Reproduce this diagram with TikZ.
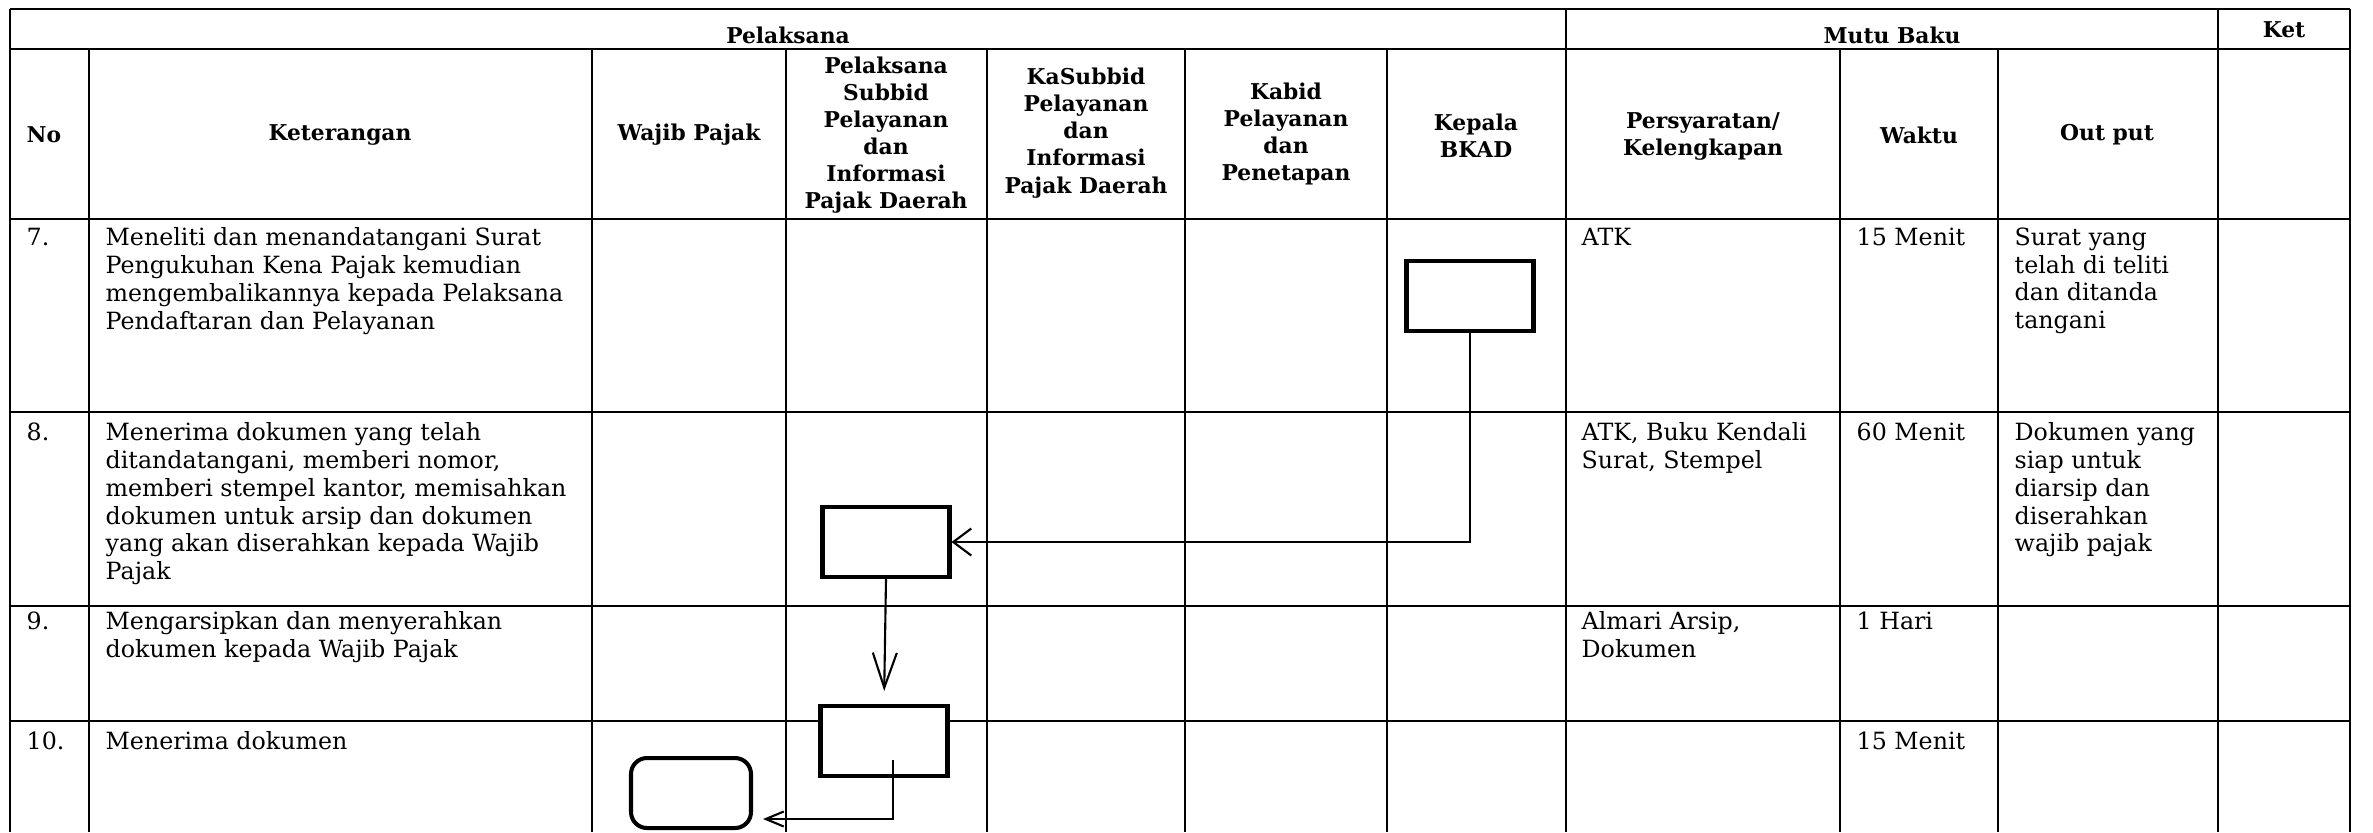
\documentclass[tikz,border=0pt]{standalone}
\usepackage{fontspec}
\setmainfont{DejaVu Serif}
\usetikzlibrary{arrows.meta}

\begin{document}
\begin{tikzpicture}[x=0.1mm, y=-0.1mm,
  grid/.style={line width=0.55pt},
  rowline/.style={line width=0.75pt},
  head/.style={align=center, inner sep=0pt, font=\fontsize{6.2}{7.7}\selectfont\bfseries},
  cell/.style={anchor=north west, inner sep=0pt, align=left, font=\fontsize{6.75}{7.9}\selectfont},
  flowbox/.style={draw, line width=1.15pt, minimum width=12.7mm, minimum height=7.0mm, inner sep=0pt},
  endbox/.style={flowbox, rounded corners=1.6mm, minimum width=12.0mm},
  flow/.style={line width=0.6pt}]
  \useasboundingbox (0,0) rectangle (2373,832);
  % table grid
  \foreach \y in {9,49,219,412,606,721}
    \draw[rowline] (10,\y) -- (2350,\y);
  \foreach \x in {10,1566,2218,2350}
    \draw[grid] (\x,9) -- (\x,832);
  \foreach \x in {89,592,786,987,1185,1387,1840,1998}
    \draw[grid] (\x,49) -- (\x,832);
  % header
  \node[head] (hPelaksana) at (788,35) {Pelaksana};
  \node[head] (hMutu) at (1892,35) {Mutu Baku};
  \node[head] (hKet) at (2284,30) {Ket};
  \node[head, anchor=west] (hNo) at (26,135) {No};
  \node[head] (hKeterangan) at (340,135) {Keterangan};
  \node[head] (hWajib) at (689,135) {Wajib Pajak};
  \node[head] (hSubbid) at (886,135) {Pelaksana\\Subbid\\Pelayanan\\dan\\Informasi\\Pajak Daerah};
  \node[head] (hKasubbid) at (1086,133) {KaSubbid\\Pelayanan\\dan\\Informasi\\Pajak Daerah};
  \node[head] (hKabid) at (1286,134) {Kabid\\Pelayanan\\dan\\Penetapan};
  \node[head] (hKepala) at (1476,136) {Kepala\\BKAD};
  \node[head] (hSyarat) at (1703,136) {Persyaratan/\\Kelengkapan};
  \node[head] (hWaktu) at (1919,135) {Waktu};
  \node[head] (hOutput) at (2107,135) {Out put};
  % row 7
  \node[cell] (no7) at (26,227) {7.};
  \node[cell] (ket7) at (105,227) {Meneliti dan menandatangani Surat\\Pengukuhan Kena Pajak kemudian\\mengembalikannya kepada Pelaksana\\Pendaftaran dan Pelayanan};
  \node[cell] (syarat7) at (1581,227) {ATK};
  \node[cell] (waktu7) at (1856,227) {15 Menit};
  \node[cell] (out7) at (2014,227) {Surat yang\\telah di teliti\\dan ditanda\\tangani};
  % row 8
  \node[cell] (no8) at (26,422) {8.};
  \node[cell] (ket8) at (105,422) {Menerima dokumen yang telah\\ditandatangani, memberi nomor,\\memberi stempel kantor, memisahkan\\dokumen untuk arsip dan dokumen\\yang akan diserahkan kepada Wajib\\Pajak};
  \node[cell] (syarat8) at (1581,422) {ATK, Buku Kendali\\Surat, Stempel};
  \node[cell] (waktu8) at (1856,422) {60 Menit};
  \node[cell] (out8) at (2014,422) {Dokumen yang\\siap untuk\\diarsip dan\\diserahkan\\wajib pajak};
  % row 9
  \node[cell] (no9) at (26,611) {9.};
  \node[cell] (ket9) at (105,611) {Mengarsipkan dan menyerahkan\\dokumen kepada Wajib Pajak};
  \node[cell] (syarat9) at (1581,611) {Almari Arsip,\\Dokumen};
  \node[cell] (waktu9) at (1856,611) {1 Hari};
  % row 10
  \node[cell] (no10) at (26,731) {10.};
  \node[cell] (ket10) at (105,731) {Menerima dokumen};
  \node[cell] (waktu10) at (1856,731) {15 Menit};
  % flow
  \node[flowbox, fill=white] (bkad7) at (1470,296) {};
  \node[flowbox, fill=white] (subbid8) at (886,542) {};
  \node[flowbox, fill=white] (subbid10) at (884,741) {};
  \node[endbox, fill=white] (wajib10) at (691,793) {};
  \coordinate (start10) at (893,760);
  \draw[flow, -{Straight Barb[length=1.8mm, width=2.7mm]}] (bkad7.south) |- (subbid8.east);
  \draw[flow, -{Straight Barb[length=3.5mm, width=2.4mm]}, shorten >=1.3mm] (subbid8.south) -- (subbid10.north);
  \draw[flow, -{Straight Barb[length=1.8mm, width=1.5mm]}] (start10) |- ([xshift=1mm, yshift=-2.6mm]wajib10.east);
\end{tikzpicture}
\end{document}
